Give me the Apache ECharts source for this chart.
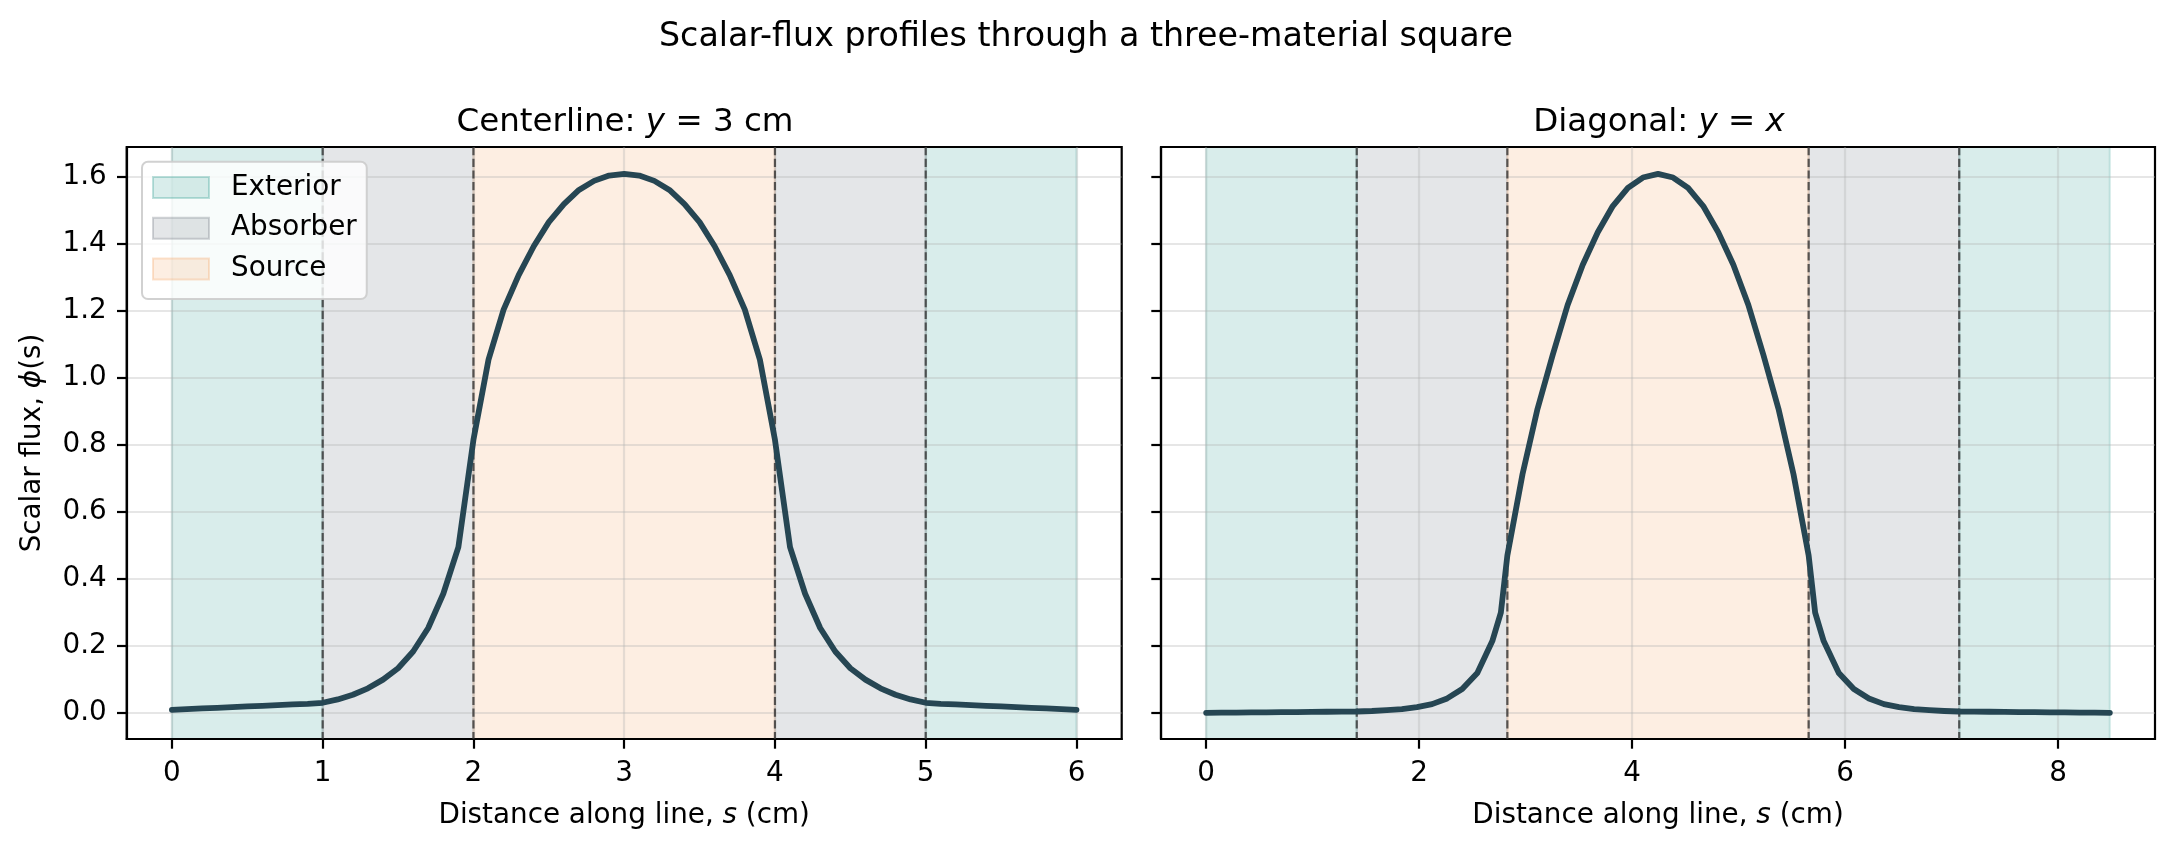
<!DOCTYPE html>
<html>
<head>
<meta charset="utf-8">
<script src="https://cdn.jsdelivr.net/npm/echarts@6/dist/echarts.min.js"></script>
<style>
html,body{margin:0;padding:0;background:#fff;}
#chart{width:2176px;height:848px;}
</style>
</head>
<body>
<div id="chart"></div>
<script>
// ---------- data ----------
const centerS = [0.0,0.1,0.2,0.3,0.4,0.5,0.6,0.7,0.8,0.9,1.0,1.1,1.2,1.3,1.4,1.5,1.6,1.7,1.8,1.9,2.0,
  2.1,2.2,2.3,2.4,2.5,2.6,2.7,2.8,2.9,3.0,3.1,3.2,3.3,3.4,3.5,3.6,3.7,3.8,3.9,4.0,
  4.1,4.2,4.3,4.4,4.5,4.6,4.7,4.8,4.9,5.0,5.1,5.2,5.3,5.4,5.5,5.6,5.7,5.8,5.9,6.0];
const centerPhi = [0.010,0.012,0.014,0.016,0.018,0.020,0.022,0.024,0.026,0.028,0.031,
  0.041,0.055,0.074,0.100,0.134,0.184,0.254,0.356,0.495,0.815,
  1.054,1.203,1.306,1.392,1.464,1.518,1.560,1.587,1.603,1.608,
  1.603,1.587,1.560,1.518,1.464,1.392,1.306,1.203,1.054,0.815,
  0.495,0.356,0.254,0.184,0.134,0.100,0.074,0.055,0.041,0.031,
  0.028,0.026,0.024,0.022,0.020,0.018,0.016,0.014,0.012,0.010];

const diagS = [0,0.141,0.283,0.424,0.566,0.707,0.849,0.990,1.131,1.273,1.414,
  1.556,1.697,1.838,1.980,2.121,2.263,2.404,2.546,2.687,2.767,2.828,
  2.970,3.111,3.253,3.394,3.536,3.677,3.818,3.960,4.101,4.243,
  4.384,4.525,4.667,4.808,4.950,5.091,5.233,5.374,5.515,5.657,5.718,
  5.798,5.940,6.081,6.223,6.364,6.505,6.647,6.788,6.930,7.071,
  7.212,7.354,7.495,7.637,7.778,7.920,8.061,8.202,8.344,8.485];
const diagPhi = [0.001,0.0014,0.0018,0.0022,0.0026,0.003,0.0034,0.0038,0.0042,0.0046,0.005,
  0.0065,0.009,0.012,0.018,0.027,0.044,0.072,0.120,0.215,0.300,0.470,
  0.712,0.907,1.067,1.217,1.337,1.434,1.512,1.566,1.597,1.608,
  1.597,1.566,1.512,1.434,1.337,1.217,1.067,0.907,0.712,0.470,0.300,
  0.215,0.120,0.072,0.044,0.027,0.018,0.012,0.009,0.0065,0.005,
  0.0046,0.0042,0.0038,0.0034,0.003,0.0026,0.0022,0.0018,0.0014,0.001];

// material regions [start, end]
const centerExterior = [[0,1],[5,6]];
const centerAbsorber = [[1,2],[4,5]];
const centerSource   = [[2,4]];
const diagExterior = [[0,1.414],[7.071,8.485]];
const diagAbsorber = [[1.414,2.828],[5.657,7.071]];
const diagSource   = [[2.828,5.657]];
const centerBounds = [1,2,4,5];
const diagBounds = [1.414,2.828,5.657,7.071];

const centerTicks = [0,1,2,3,4,5,6];
const diagTicks = [0,2,4,6,8];
const phiTicks = [0,0.2,0.4,0.6,0.8,1.0,1.2,1.4,1.6];

const mainTitle = 'Scalar-flux profiles through a three-material square';
const xName = 'Distance along line, {i|s} (cm)';
const yName = 'Scalar flux, {i|\u03D5}(s)';

// ---------- styles ----------
const FONT = 'DejaVu Sans';
const FS = 27.8;
const colExterior = 'rgba(42,157,143,0.18)';
const colAbsorber = 'rgba(108,117,125,0.18)';
const colSource = 'rgba(244,162,97,0.18)';
const lineColor = '#264653';
const gridLineStyle = {color:'rgba(176,176,176,0.32)', width:2.2};
const italic = {i:{fontStyle:'italic', fontFamily:FONT, fontSize:FS, color:'#000'}};

function zip(a,b){return a.map((v,i)=>[v,b[i]]);}

function bandSeries(name, data, color, idx){
  return {
    type:'custom', name:name, xAxisIndex:idx, yAxisIndex:idx, z:-1, silent:true,
    itemStyle:{color:color},
    data:data, encode:{x:[0,1]},
    renderItem:function(params, api){
      const x0 = api.coord([api.value(0), 0])[0];
      const x1 = api.coord([api.value(1), 0])[0];
      const cs = params.coordSys;
      return {type:'rect', shape:{x:x0, y:cs.y, width:x1-x0, height:cs.height},
        style:{fill:color, stroke:color, lineWidth:2.2}};
    }
  };
}
function boundSeries(data, idx){
  return {
    type:'custom', xAxisIndex:idx, yAxisIndex:idx, z:1, silent:true,
    data:data.map(v=>[v,0]), encode:{x:0,y:1},
    renderItem:function(params, api){
      const x = api.coord([api.value(0), 0])[0];
      const cs = params.coordSys;
      return {type:'line', shape:{x1:x, y1:cs.y, x2:x, y2:cs.y+cs.height},
        style:{stroke:'rgba(51,51,51,0.8)', lineWidth:2.2, lineDash:[8.2,3.5]}};
    }
  };
}
function xAxisCfg(idx, min, max, ticks){
  return {
    type:'value', gridIndex:idx, min:min, max:max,
    name:xName, nameLocation:'middle', nameGap:63,
    nameTextStyle:{fontFamily:FONT, fontSize:FS, color:'#000', lineHeight:28, rich:italic},
    axisLine:{show:true, onZero:false, lineStyle:{color:'#000', width:2.2}},
    axisTick:{show:true, length:9.7, inside:false, customValues:ticks, lineStyle:{color:'#000', width:2.2}},
    axisLabel:{show:true, customValues:ticks, margin:21, fontFamily:FONT, fontSize:FS, color:'#000', lineHeight:28,
      formatter:v=>String(v)},
    splitLine:{show:true, lineStyle:gridLineStyle}
  };
}
function yAxisCfg(idx, showLabel){
  return {
    type:'value', gridIndex:idx, min:-0.077, max:1.688,
    name: showLabel ? yName : '', nameLocation:'middle', nameRotate:90, nameGap:80,
    nameTextStyle:{fontFamily:FONT, fontSize:FS, color:'#000', lineHeight:28, rich:italic},
    axisLine:{show:true, onZero:false, lineStyle:{color:'#000', width:2.2}},
    axisTick:{show:true, length:9.7, inside:false, customValues:phiTicks, lineStyle:{color:'#000', width:2.2}},
    axisLabel:{show:showLabel, customValues:phiTicks, margin:20, fontFamily:FONT, fontSize:FS, color:'#000',
      formatter:v=>v.toFixed(1)},
    splitLine:{show:true, lineStyle:gridLineStyle}
  };
}

const chart = echarts.init(document.getElementById('chart'), null, {renderer:'canvas', width:2176, height:848});
const option = {
  backgroundColor:'#fff',
  animation:false,
  textStyle:{fontFamily:FONT},
  title:[
    {text:mainTitle, left:1081, top:16, textAlign:'center',
      textStyle:{fontFamily:FONT, fontSize:33.3, fontWeight:'normal', color:'#000', lineHeight:33.3}},
    {text:'Centerline: {i|y} = 3 cm', left:620, top:101, textAlign:'center',
      textStyle:{fontFamily:FONT, fontSize:32.5, fontWeight:'normal', color:'#000', lineHeight:32.5,
        rich:{i:{fontStyle:'italic', fontFamily:FONT, fontSize:32.5, color:'#000'}}}},
    {text:'Diagonal: {i|y} = {i|x}', left:1654, top:101, textAlign:'center',
      textStyle:{fontFamily:FONT, fontSize:32.5, fontWeight:'normal', color:'#000', lineHeight:32.5,
        rich:{i:{fontStyle:'italic', fontFamily:FONT, fontSize:32.5, color:'#000'}}}}
  ],
  grid:[
    {left:126.7, top:147, width:995, height:592, show:true, borderColor:'#000', borderWidth:2.2, backgroundColor:'transparent'},
    {left:1161, top:147, width:994, height:592, show:true, borderColor:'#000', borderWidth:2.2, backgroundColor:'transparent'}
  ],
  xAxis:[ xAxisCfg(0,-0.3,6.3,centerTicks), xAxisCfg(1,-0.424,8.909,diagTicks) ],
  yAxis:[ yAxisCfg(0,true), yAxisCfg(1,false) ],
  legend:{
    left:142, top:161.7, orient:'vertical', selectedMode:false,
    itemWidth:56, itemHeight:21, itemGap:12.7,
    padding:[11.8,10,16.2,10],
    backgroundColor:'rgba(255,255,255,0.8)', borderColor:'rgba(204,204,204,0.9)', borderWidth:2, borderRadius:6,
    textStyle:{fontFamily:FONT, fontSize:FS, color:'#000', lineHeight:21, padding:[0,0,0,17]},
    data:[
      {name:'Exterior', icon:'rect', itemStyle:{color:colExterior, borderColor:'rgba(42,157,143,0.3)', borderWidth:2}},
      {name:'Absorber', icon:'rect', itemStyle:{color:colAbsorber, borderColor:'rgba(108,117,125,0.3)', borderWidth:2}},
      {name:'Source', icon:'rect', itemStyle:{color:colSource, borderColor:'rgba(244,162,97,0.3)', borderWidth:2}}
    ],
    z:10
  },
  series:[
    bandSeries('Exterior', centerExterior, colExterior, 0),
    bandSeries('Absorber', centerAbsorber, colAbsorber, 0),
    bandSeries('Source', centerSource, colSource, 0),
    bandSeries('Exterior', diagExterior, colExterior, 1),
    bandSeries('Absorber', diagAbsorber, colAbsorber, 1),
    bandSeries('Source', diagSource, colSource, 1),
    boundSeries(centerBounds, 0),
    boundSeries(diagBounds, 1),
    {type:'line', name:'Centerline profile', xAxisIndex:0, yAxisIndex:0, z:3, data:zip(centerS, centerPhi),
      showSymbol:false, symbol:'none', smooth:false, silent:true,
      lineStyle:{color:lineColor, width:5.8, join:'round', cap:'round'}},
    {type:'line', name:'Diagonal profile', xAxisIndex:1, yAxisIndex:1, z:3, data:zip(diagS, diagPhi),
      showSymbol:false, symbol:'none', smooth:false, silent:true,
      lineStyle:{color:lineColor, width:5.8, join:'round', cap:'round'}}
  ]
};
chart.setOption(option);
</script>
</body>
</html>
